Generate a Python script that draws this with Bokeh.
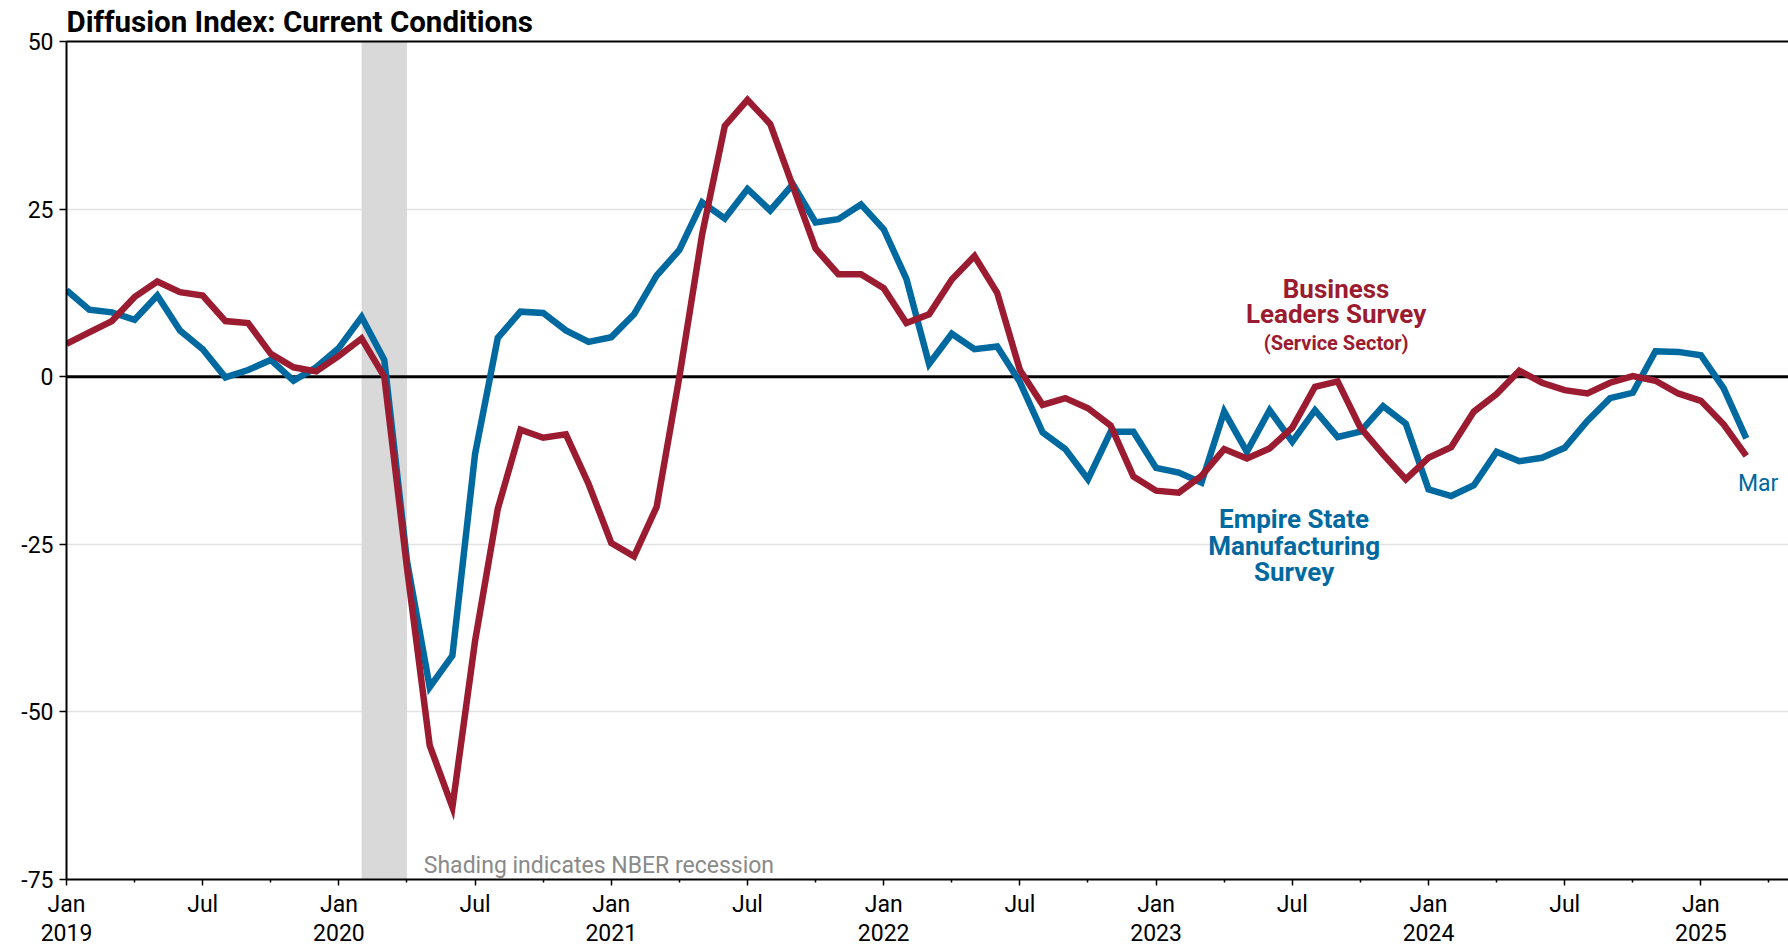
import numpy as np
from bokeh.plotting import figure
from bokeh.models import Range1d, FixedTicker, LinearAxis, BoxAnnotation, Span, Label
from bokeh.embed import file_html
from bokeh.resources import INLINE

# ---------------- data ----------------
month_names = ["Jan", "Feb", "Mar", "Apr", "May", "Jun", "Jul", "Aug", "Sep", "Oct", "Nov", "Dec"]
months = [f"{m} {y}" for y in range(2019, 2026) for m in month_names][:75]  # Jan 2019 .. Mar 2025

empire_state = [
    12.9, 10.0, 9.6, 8.5, 12.1, 6.9, 4.1, -0.1, 1.0, 2.5, -0.6, 1.4,      # 2019
    4.3, 8.9, 2.5, -27.5, -46.3, -41.6, -11.5, 5.8, 9.7, 9.5, 6.9, 5.2,   # 2020
    5.9, 9.3, 15.1, 18.9, 26.0, 23.6, 28.0, 24.8, 28.7, 23.0, 23.5, 25.7, # 2021
    22.0, 14.6, 1.9, 6.4, 4.1, 4.5, -0.8, -8.3, -10.8, -15.3, -8.2, -8.2, # 2022
    -13.6, -14.3, -15.8, -5.2, -11.2, -5.0, -9.7, -5.0, -9.0, -8.2, -4.4, -7.0,  # 2023
    -16.8, -17.8, -16.2, -11.2, -12.6, -12.1, -10.6, -6.6, -3.2, -2.4, 3.8, 3.7,  # 2024
    3.2, -1.7, -9.2,                                                        # 2025
]

business_leaders = [
    4.9, 6.6, 8.3, 11.9, 14.2, 12.6, 12.1, 8.3, 8.0, 3.4, 1.4, 0.8,        # 2019
    3.1, 5.7, 0.0, -28.5, -55.0, -64.2, -39.4, -19.7, -7.9, -9.1, -8.6, -16.0,  # 2020
    -24.8, -26.8, -19.4, 0.0, 21.2, 37.4, 41.3, 37.7, 28.4, 19.1, 15.3, 15.3,   # 2021
    13.2, 8.0, 9.3, 14.5, 18.0, 12.5, 1.0, -4.2, -3.2, -4.7, -7.3, -14.9,  # 2022
    -17.0, -17.3, -14.8, -10.8, -12.2, -10.7, -7.6, -1.5, -0.7, -7.6, -11.6, -15.3,  # 2023
    -12.1, -10.5, -5.2, -2.6, 0.9, -0.9, -2.0, -2.5, -0.9, 0.1, -0.6, -2.5,  # 2024
    -3.6, -7.1, -11.8,                                                      # 2025
]

recession_start = ["Feb 2020"]
recession_end = ["Apr 2020"]

y_ticks = [-75, -50, -25, 0, 25, 50]
y_tick_labels = ["-75", "-50", "-25", "0", "25", "50"]
grid_ticks = [-50, -25, 25]
tick_months = ["Jan 2019", "Jul 2019", "Jan 2020", "Jul 2020", "Jan 2021", "Jul 2021",
               "Jan 2022", "Jul 2022", "Jan 2023", "Jul 2023", "Jan 2024", "Jul 2024", "Jan 2025"]
tick_labels = ["Jan\n2019", "Jul", "Jan\n2020", "Jul", "Jan\n2021", "Jul",
               "Jan\n2022", "Jul", "Jan\n2023", "Jul", "Jan\n2024", "Jul", "Jan\n2025"]
minor_tick_months = ["Apr 2019", "Oct 2019", "Apr 2020", "Oct 2020", "Apr 2021", "Oct 2021",
                     "Apr 2022", "Oct 2022", "Apr 2023", "Oct 2023", "Apr 2024", "Oct 2024", "Apr 2025"]

# ---------------- styling ----------------
FONT = "Roboto"
BLUE = "#0069A0"
RED = "#9B1C31"
all_months = [f"{m} {y}" for y in range(2019, 2026) for m in month_names]
pos = {m: i for i, m in enumerate(all_months)}
x = np.array([pos[m] for m in months])

p = figure(width=1788, height=950, output_backend="svg", toolbar_location=None,
           x_range=Range1d(0.0, 75.86), y_range=Range1d(-75, 50),
           min_border_left=66, min_border_right=0, min_border_top=41, min_border_bottom=71)
p.background_fill_color = "white"
p.border_fill_color = "white"
p.outline_line_color = None

p.title.text = "Diffusion Index: Current Conditions"
p.title.text_font = FONT
p.title.text_font_style = "bold"
p.title.text_font_size = "29.5px"
p.title.text_color = "black"
p.title.align = "left"
p.title.offset = 0
p.title.standoff = 5

# x axis
xa = p.xaxis[0]
xa.ticker = FixedTicker(ticks=[pos[m] for m in tick_months],
                        minor_ticks=[pos[m] for m in minor_tick_months])
xa.major_label_overrides = {pos[m]: lab for m, lab in zip(tick_months, tick_labels)}
xa.major_label_text_font = FONT
xa.major_label_text_font_size = "23px"
xa.major_label_text_color = "black"
xa.major_label_text_line_height = 1.1
xa.major_label_standoff = 5
xa.axis_line_color = "black"
xa.axis_line_width = 2
xa.major_tick_in = 0
xa.major_tick_out = 6
xa.minor_tick_in = 0
xa.minor_tick_out = 3
xa.major_tick_line_color = "black"
xa.minor_tick_line_color = "black"
xa.major_tick_line_width = 1.5
xa.minor_tick_line_width = 1.5

# y axis
ya = p.yaxis[0]
ya.ticker = FixedTicker(ticks=y_ticks)
ya.major_label_overrides = {t: s for t, s in zip(y_ticks, y_tick_labels)}
ya.major_label_text_font = FONT
ya.major_label_text_font_size = "23px"
ya.major_label_text_color = "black"
ya.major_label_standoff = 6
ya.axis_line_color = "black"
ya.axis_line_width = 2
ya.major_tick_in = 0
ya.major_tick_out = 7
ya.major_tick_line_color = "black"
ya.major_tick_line_width = 1.5
ya.minor_tick_line_color = None

# top border as an empty axis
top = LinearAxis(ticker=FixedTicker(ticks=[]), axis_line_color="black", axis_line_width=2,
                 major_tick_line_color=None, minor_tick_line_color=None,
                 major_tick_out=0, minor_tick_out=0, major_label_standoff=0,
                 major_label_text_font_size="0px")
p.add_layout(top, "above")

# grid
p.xgrid.visible = False
p.ygrid.ticker = FixedTicker(ticks=grid_ticks)
p.ygrid.grid_line_color = "#E2E2E2"
p.ygrid.grid_line_width = 1.5

# recession shading
for s, e in zip(recession_start, recession_end):
    p.add_layout(BoxAnnotation(left=pos[s], right=pos[e], fill_color="#D9D9D9", fill_alpha=1.0,
                               line_color=None, level="underlay"))

# zero line
p.add_layout(Span(location=0, dimension="width", line_color="black", line_width=3, level="underlay"))

# series
p.line(x, empire_state, line_color=BLUE, line_width=6.5, line_join="miter")
p.line(x, business_leaders, line_color=RED, line_width=6.5, line_join="miter")

# annotations
def lab(xv, yv, text, color, size, bold=False, align="center"):
    p.add_layout(Label(x=xv, y=yv, text=text, text_color=color, text_font=FONT,
                       text_font_size=size, text_font_style="bold" if bold else "normal",
                       text_align=align, text_baseline="alphabetic"))

lab(55.93, 13.15, "Business", RED, "26px", True)
lab(55.93, 9.3, "Leaders Survey", RED, "26px", True)
lab(55.93, 5.05, "(Service Sector)", RED, "20px", True)

lab(54.08, -21.3, "Empire State", BLUE, "26px", True)
lab(54.08, -25.2, "Manufacturing", BLUE, "26px", True)
lab(54.08, -29.1, "Survey", BLUE, "26px", True)

lab(74.52, -16.0, "Mar", BLUE, "23px", False)
lab(15.74, -72.9, "Shading indicates NBER recession", "#8A8A8A", "23px", False, "left")

open("out.html", "w").write(file_html(p, INLINE))
